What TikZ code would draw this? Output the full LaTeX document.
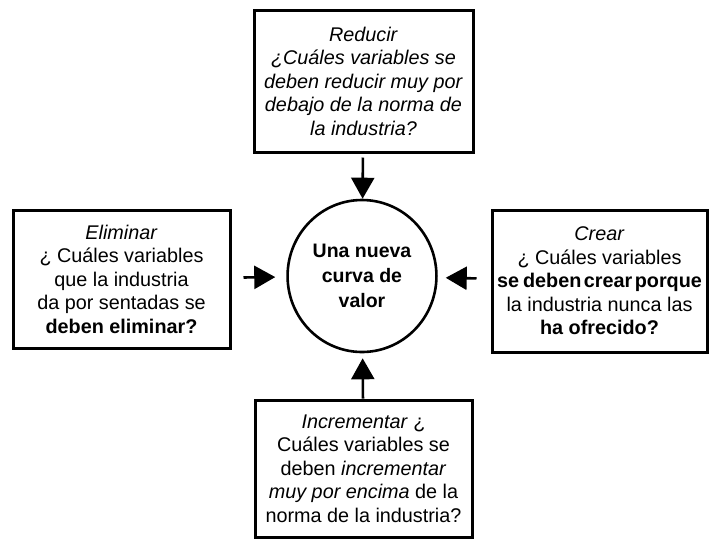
\documentclass[tikz,border=0pt]{standalone}
\usepackage{fontspec}
\setmainfont{Liberation Sans}
\usetikzlibrary{
    arrows.meta,
    shapes.geometric,
    positioning
}

\begin{document}
\begin{tikzpicture}[x=1pt, y=-1pt,
    caja/.style={draw, line width=3pt, align=center, inner sep=0pt,
        font=\fontsize{19.8}{23.5}\selectfont},
    flecha/.style={-{Triangle[length=21pt, width=23pt]}, line width=2.6pt}]
                    \useasboundingbox (0, 0) rectangle (714, 539);
                    \node[caja, minimum width=219, minimum height=142] (red) at (363.5, 81)
                        {\textit{Reducir}\\ \textit{¿Cuáles variables se}\\ \textit{deben reducir muy por}\\
                         \textit{debajo de la norma de}\\ \textit{la industria?}};
                    \node[caja, minimum width=217, minimum height=138] (eli) at (121.5, 279)
                        {\textit{Eliminar}\\ ¿ Cuáles variables\\ que la industria\\
                         da por sentadas se\\ \textbf{deben eliminar?}};
                    \node[caja, minimum width=215, minimum height=142] (cre) at (599.5, 281)
                        {\textit{Crear}\\ ¿ Cuáles variables\\
                         \textbf{se\hspace{4pt}deben\hspace{2.5pt}crear\hspace{2.5pt}porque}\\
                         la industria nunca las\\ \textbf{ha ofrecido?}};
                    \node[caja, minimum width=217, minimum height=137] (inc) at (363.5, 468.5)
                        {\textit{Incrementar} ¿\\ Cuáles variables se\\ deben \textit{incrementar}\\
                         \textit{muy por encima} de la\\ norma de la industria?};
                    \node[draw, ellipse, line width=2.6pt, minimum width=139, minimum height=152,
                        align=center, font=\fontsize{19.5}{25}\selectfont\bfseries] (cv) at (362, 276)
                        {Una nueva\\ curva de\\ valor};
                    \draw
                    (red) edge[flecha, shorten <=4pt] (cv)
                    (inc) edge[flecha, shorten >=5pt] (cv)
                    (eli) edge[flecha, shorten <=12pt, shorten >=11pt] (cv)
                    (cre) edge[flecha, shorten <=14pt, shorten >=8pt] (cv);
                \end{tikzpicture}
\end{document}
